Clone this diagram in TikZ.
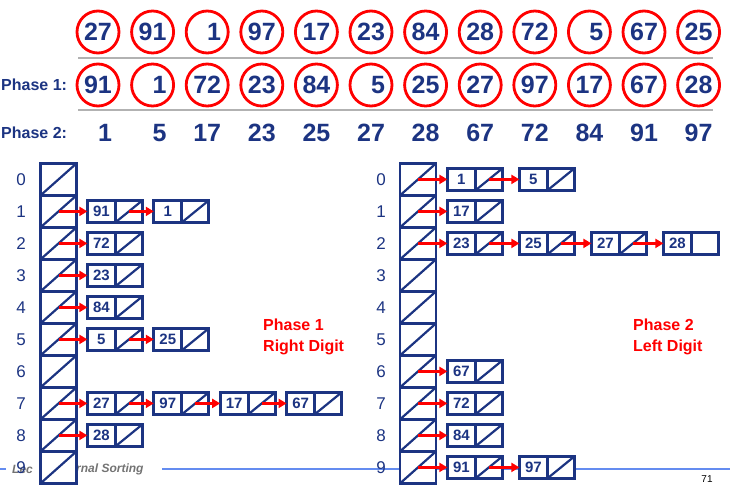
\documentclass[tikz,border=0pt]{standalone}
\usepackage{fontspec}
\setmainfont{Liberation Sans}
\usepackage{xcolor}
\usepackage{tikz}
\usetikzlibrary{
  arrows.meta,
  positioning
}
\definecolor{navyc}{RGB}{28,52,130}
\definecolor{footblue}{RGB}{100,140,240}

\begin{document}
\begin{tikzpicture}[
  x=1pt, y=-1pt,
  ball/.style={circle, draw=red, line width=2.8pt, minimum size=42pt, inner sep=0pt, outer sep=0pt, text=navyc, font=\fontsize{25}{25}\selectfont\bfseries},
  sorted/.style={inner sep=0pt, text=navyc, font=\fontsize{25}{25}\selectfont\bfseries},
  phase/.style={inner sep=0pt, text=navyc, font=\fontsize{16}{16}\selectfont\bfseries},
  bucket/.style={rectangle, draw=navyc, fill=white, line width=2.8pt, minimum width=36pt, minimum height=32pt, inner sep=0pt, outer sep=0pt},
  val/.style={rectangle, draw=navyc, fill=white, line width=2.8pt, minimum width=28pt, minimum height=22pt, inner sep=0pt, outer sep=0pt, text=navyc, font=\fontsize{15}{15}\selectfont\bfseries},
  ptr/.style={rectangle, draw=navyc, fill=white, line width=2.8pt, minimum width=27pt, minimum height=22pt, inner sep=0pt, outer sep=0pt},
  slash/.style={draw=navyc, line width=2.2pt},
  idx/.style={inner sep=0pt, text=navyc, font=\fontsize{17}{17}\selectfont},
  link/.style={draw=red, line width=2.6pt, -{Triangle[length=8pt,width=9pt]}},
  note/.style={inner sep=0pt, align=left, text=red, font=\fontsize{16}{21}\selectfont\bfseries},
  rule/.style={draw=black!30, line width=1.5pt},
  footline/.style={draw=footblue, line width=2.5pt},
  foot/.style={inner sep=0pt, text=black!55, font=\fontsize{12}{12}\selectfont\bfseries\itshape},
]
\useasboundingbox (0,0) rectangle (730,485);

% footer
\draw[footline] (0,469) -- (6,469);
\draw[footline] (162,469) -- (730,469);
\node[foot, anchor=west] (footl) at (12,469) {Lec};
\node[foot, anchor=west] (footr) at (76,469) {rnal Sorting};
\node[inner sep=0pt, font=\fontsize{10}{10}\selectfont] (page) at (707,479) {71};

% input, phase 1 and phase 2 rows
\foreach \v [count=\i from 0] in {27,91,1,97,17,23,84,28,72,5,67,25}
  \node[ball] (in\i) at (98+54.6*\i,32) {\ifnum\v<10 \hphantom{0}\fi\v};
\foreach \v [count=\i from 0] in {91,1,72,23,84,5,25,27,97,17,67,28}
  \node[ball] (pa\i) at (98+54.6*\i,85) {\ifnum\v<10 \hphantom{0}\fi\v};
\foreach \v [count=\i from 0] in {1,5,17,23,25,27,28,67,72,84,91,97}
  \node[sorted, xshift={(\v<10)*7pt}] (pb\i) at (98+54.6*\i,133) {\v};
\draw[rule] (78,58) -- (713,58);
\draw[rule] (78,110) -- (713,110);
\node[phase, anchor=west] (ph1) at (1,85) {Phase 1:};
\node[phase, anchor=west] (ph2) at (1,133) {Phase 2:};

% bucket columns
\foreach \i in {0,...,9} {
  \node[bucket] (L\i) at (58.5,179.4+32*\i) {};
  \draw[slash] (L\i.south west) -- (L\i.north east);
  \node[idx] (li\i) at (21,179.4+32*\i) {\i};
  \node[bucket] (R\i) at (418,179.4+32*\i) {};
  \draw[slash] (R\i.south west) -- (R\i.north east);
  \node[idx] (ri\i) at (381,179.4+32*\i) {\i};
}

% phase 1 chains
\foreach \r/\vals in {1/{91,1},2/{72},3/{23},4/{84},5/{5,25},7/{27,97,17,67},8/{28}} {
  \foreach \v [count=\k, evaluate=\k as \j using int(\k-1)] in \vals {
    \node[val] (L\r-\k) at (35+66.4*\k,179.4+32*\r) {\v};
    \node[ptr, right=0pt of L\r-\k] (L\r-\k-p) {};
    \draw[slash] (L\r-\k-p.south west) -- (L\r-\k-p.north east);
    \ifnum\k=1
      \draw[link] (L\r.center) -- (L\r-\k.west);
    \else
      \draw[link] (L\r-\j-p.center) -- (L\r-\k.west);
    \fi
  }
}

% phase 2 chains
\foreach \r/\vals in {0/{1,5},1/{17},2/{23,25,27,28},6/{67},7/{72},8/{84},9/{91,97}} {
  \foreach \v [count=\k, evaluate=\k as \j using int(\k-1)] in \vals {
    \node[val] (R\r-\k) at (389.4+72*\k,179.4+32*\r) {\v};
    \node[ptr, right=0pt of R\r-\k] (R\r-\k-p) {};
    \ifnum\numexpr\r*10+\k\relax=24 \else
      \draw[slash] (R\r-\k-p.south west) -- (R\r-\k-p.north east);
    \fi
    \ifnum\k=1
      \draw[link] (R\r.center) -- (R\r-\k.west);
    \else
      \draw[link] (R\r-\j-p.center) -- (R\r-\k.west);
    \fi
  }
}

% annotate
\node[note, anchor=west] (note1) at (263,336.5) {Phase 1\\Right Digit};
\node[note, anchor=west] (note2) at (633,336.5) {Phase 2\\Left Digit};
\end{tikzpicture}
\end{document}
